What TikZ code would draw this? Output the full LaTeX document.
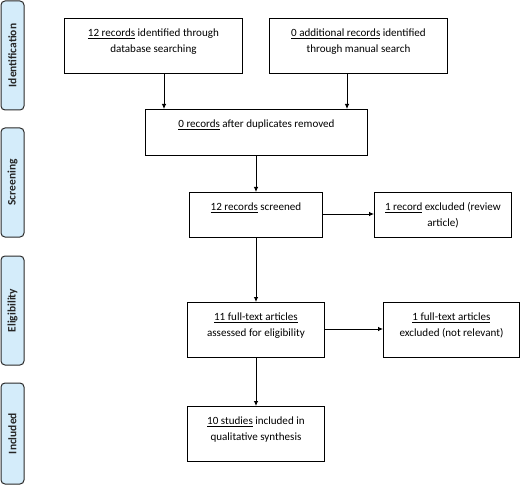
\documentclass[tikz,border=0pt]{standalone}
\usepackage{fontspec}
\setmainfont{Carlito}
\usetikzlibrary{arrows.meta}
\definecolor{panelfill}{HTML}{D4ECFA}
\definecolor{panelline}{HTML}{2A2A2A}
\newcommand{\bxt}[3]{\parbox[c][#1][t]{#2}{\centering\rule{0pt}{18.5bp}#3}}
\begin{document}
\begin{tikzpicture}[x=1bp,y=-1bp,
  box/.style={draw=black,line width=0.9bp,rectangle,inner sep=0pt,anchor=north west,font=\fontsize{11.1}{16}\selectfont},
  panel/.style={draw=panelline,fill=panelfill,line width=1bp,rounded corners=4bp},
  plabel/.style={rotate=90,font=\fontsize{11.5}{12}\bfseries\selectfont,text=black!85},
  arr/.style={-{Latex[length=5bp,width=4.5bp]},line width=0.8bp,draw=black}]
\useasboundingbox (0,0) rectangle (520,493);
% side panels
\draw[panel] (1,1) rectangle (24,110);
\draw[panel] (1,128) rectangle (24,237);
\draw[panel] (1,256) rectangle (24,365);
\draw[panel] (1,383) rectangle (24,484);
\node[plabel] (pid) at (12.5,55.5) {Identification};
\node[plabel] (pscr) at (12.5,182.5) {Screening};
\node[plabel] (pel) at (12.5,310.5) {Eligibility};
\node[plabel] (pinc) at (12.5,433.5) {Included};
% boxes
\node[box] (b1) at (64,18) {\bxt{55bp}{178bp}{\underline{12 records} identified through\\database searching}};
\node[box] (b2) at (269,18) {\bxt{55bp}{178bp}{\underline{0 additional records} identified\\through manual search}};
\node[box] (b3) at (145,109) {\bxt{46bp}{222bp}{\underline{0 records} after duplicates removed}};
\node[box] (b4) at (189,192) {\bxt{45bp}{133bp}{\underline{12 records} screened}};
\node[box] (b5) at (374,192) {\bxt{45bp}{137bp}{\underline{1 record} excluded (review\\article)}};
\node[box] (b6) at (187,302) {\bxt{55bp}{137bp}{\underline{11 full-text articles}\\assessed for eligibility}};
\node[box] (b7) at (383,302) {\bxt{55bp}{136bp}{\underline{1 full-text articles}\\excluded (not relevant)}};
\node[box] (b8) at (187,406) {\bxt{55bp}{137bp}{\underline{10 studies} included in\\qualitative synthesis}};
% connectors
\draw[arr] (b1.south -| 164,0) -- (b3.north -| 164,0);
\draw[arr] (b2.south -| 347,0) -- (b3.north -| 347,0);
\draw[arr] (b3.south -| 256,0) -- (b4.north -| 256,0);
\draw[arr] (b4.east |- 0,214) -- (b5.west |- 0,214);
\draw[arr] (b4.south -| 256,0) -- (b6.north -| 256,0);
\draw[arr] (b6.east |- 0,329) -- (b7.west |- 0,329);
\draw[arr] (b6.south -| 256,0) -- (b8.north -| 256,0);
\end{tikzpicture}
\end{document}
